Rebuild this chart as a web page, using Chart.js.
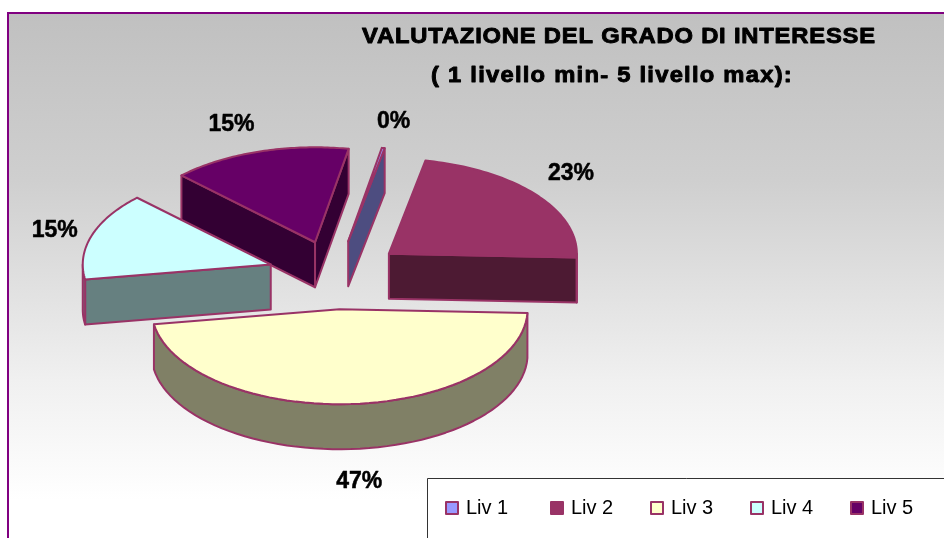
<!DOCTYPE html>
<html>
<head>
<meta charset="utf-8">
<title>Valutazione del grado di interesse</title>
<script src="https://cdn.jsdelivr.net/npm/chart.js@4"></script>
<style>
    html, body { margin: 0; padding: 0; background: #fff; overflow: hidden; }
    #wrap { width: 944px; height: 538px; position: relative; }
</style>
</head>
<body>
<div id="wrap"><canvas id="chart-1"></canvas></div>
<script>
const categories = ['Liv 1', 'Liv 2', 'Liv 3', 'Liv 4', 'Liv 5'];
const values = [0.25, 22.6, 47, 15, 15.5];
const titleLines = ['VALUTAZIONE DEL GRADO DI INTERESSE', '( 1 livello min- 5 livello max):'];

const topColors = ['#9999ff', '#993366', '#ffffcc', '#ccffff', '#660066'];
const wallColors = ['#4d4d80', '#4d1a33', '#808066', '#668080', '#330033'];
const edgeColor = '#993366';

// look of the tilted pie, all in px except tilt
const tilt = 0.505;
const depth = 45;
const burst = 68;
const pieY = 275;
const labelGap = 40;
const labelNudgeX = [3, 3, 6, 1, -15];
const labelNudgeY = [-6, -9, 57, 1, -8];

const total = values.reduce((a, b) => a + b, 0);

// where a point of a slice lands on screen once tilted and pulled out
function project(arc, radius, angle, drop) {
    const mid = (arc.startAngle + arc.endAngle) / 2;
    return {
        x: arc.x + burst * Math.cos(mid) + radius * Math.cos(angle),
        y: pieY + tilt * (burst * Math.sin(mid) + radius * Math.sin(angle)) + drop
    };
}

function traceRim(ctx, arc, from, to, drop) {
    const steps = 60;
    for (let i = 0; i <= steps; i++) {
        const p = project(arc, arc.outerRadius, from + (to - from) * i / steps, drop);
        ctx.lineTo(p.x, p.y);
    }
}

function drawFace(ctx, arc, angle, color) {
    const a = project(arc, 0, angle, 0);
    const b = project(arc, arc.outerRadius, angle, 0);
    ctx.beginPath();
    ctx.moveTo(a.x, a.y);
    ctx.lineTo(b.x, b.y);
    ctx.lineTo(b.x, b.y + depth);
    ctx.lineTo(a.x, a.y + depth);
    ctx.closePath();
    ctx.fillStyle = color;
    ctx.fill();
    ctx.stroke();
}

function drawWalls(ctx, arc, color) {
    ctx.strokeStyle = edgeColor;
    ctx.lineWidth = 2;
    ctx.lineJoin = 'round';
    if (Math.cos(arc.startAngle) < 0) drawFace(ctx, arc, arc.startAngle, color);
    if (Math.cos(arc.endAngle) > 0) drawFace(ctx, arc, arc.endAngle, color);

    // outer rim, only the part turned towards us
    const from = Math.max(arc.startAngle, 0);
    const to = Math.min(arc.endAngle, Math.PI);
    if (to > from) {
        ctx.beginPath();
        traceRim(ctx, arc, from, to, 0);
        const back = project(arc, arc.outerRadius, to, depth);
        ctx.lineTo(back.x, back.y);
        traceRim(ctx, arc, to, from, depth);
        ctx.closePath();
        ctx.fillStyle = color;
        ctx.fill();
        ctx.stroke();
    }
}

function drawTop(ctx, arc) {
    const mid = (arc.startAngle + arc.endAngle) / 2;
    ctx.save();
    ctx.translate(arc.x + burst * Math.cos(mid), pieY + tilt * burst * Math.sin(mid));
    ctx.scale(1, tilt);
    ctx.translate(-arc.x, -arc.y);
    arc.draw(ctx);
    ctx.restore();

    // outline redrawn flat so the tilt does not thin it
    const apex = project(arc, 0, mid, 0);
    ctx.beginPath();
    ctx.moveTo(apex.x, apex.y);
    traceRim(ctx, arc, arc.startAngle, arc.endAngle, 0);
    ctx.closePath();
    ctx.strokeStyle = edgeColor;
    ctx.lineWidth = 2;
    ctx.stroke();
}

// the reference text is heavier than plain bold, so fill and stroke it
function heavyText(ctx, text, x, y) {
    ctx.fillText(text, x, y);
    ctx.strokeText(text, x, y);
}

// title glyphs are also wider than Liberation bold
function titleText(ctx, text, x, y, spacing) {
    ctx.save();
    ctx.translate(x, y);
    ctx.scale(1.08, 1);
    ctx.letterSpacing = spacing + 'px';
    heavyText(ctx, text, 0, 0);
    ctx.restore();
}

const tiltedPie = {
    id: 'tiltedPie',
    beforeDraw(chart) {
        const { ctx, width, height } = chart;
        ctx.save();
        const bg = ctx.createLinearGradient(0, 12, 0, 500);
        bg.addColorStop(0, '#c0c0c0');
        bg.addColorStop(0.344, '#cfcfcf');
        bg.addColorStop(0.754, '#f0f0f0');
        bg.addColorStop(1, '#ffffff');
        ctx.fillStyle = bg;
        ctx.fillRect(8, 13, width, height);
        ctx.strokeStyle = '#800080';
        ctx.lineWidth = 2;
        ctx.strokeRect(8, 13, width + 10, height + 10);
        ctx.restore();
    },
    beforeDatasetDraw(chart) {
        const { ctx } = chart;
        const arcs = chart.getDatasetMeta(0).data;
        [4, 3, 0, 1, 2].forEach(i => drawWalls(ctx, arcs[i], wallColors[i]));
        arcs.forEach(arc => drawTop(ctx, arc));
        return false;
    },
    afterDraw(chart) {
        const { ctx } = chart;
        const arcs = chart.getDatasetMeta(0).data;
        ctx.save();
        ctx.fillStyle = '#000';
        ctx.strokeStyle = '#000';
        ctx.textAlign = 'center';
        ctx.textBaseline = 'middle';

        ctx.font = 'bold 22px "Liberation Sans"';
        ctx.lineWidth = 0.9;
        titleText(ctx, titleLines[0], 619, 37, 0.75);
        titleText(ctx, titleLines[1], 612, 76, 1.15);

        ctx.font = 'bold 23px "Liberation Sans"';
        ctx.lineWidth = 0.5;
        arcs.forEach((arc, i) => {
            const mid = (arc.startAngle + arc.endAngle) / 2;
            const p = project(arc, arc.outerRadius + labelGap, mid, 0);
            heavyText(ctx, Math.round(values[i] / total * 100) + '%', p.x + labelNudgeX[i], p.y + labelNudgeY[i]);
        });

        // legend box runs off the page on the right and at the bottom
        ctx.fillStyle = '#fff';
        ctx.strokeStyle = '#333';
        ctx.lineWidth = 1;
        ctx.fillRect(427.5, 478.5, 520, 70);
        ctx.strokeRect(427.5, 478.5, 520, 70);
        ctx.textAlign = 'left';
        ctx.font = '20px "Liberation Sans"';
        categories.forEach((name, i) => {
            const x = i === 0 ? 446 : 451 + i * 100;
            ctx.fillStyle = topColors[i];
            ctx.strokeStyle = edgeColor;
            ctx.lineWidth = 2;
            ctx.fillRect(x, 502, 12, 12);
            ctx.strokeRect(x, 502, 12, 12);
            ctx.fillStyle = '#000';
            ctx.fillText(name, x + 20, 508);
        });
        ctx.restore();
    }
};

new Chart(document.getElementById('chart-1').getContext('2d'), {
    type: 'pie',
    data: {
        labels: categories,
        datasets: [{
            data: values,
            backgroundColor: topColors,
            borderWidth: 0,
            radius: 188
        }]
    },
    options: {
        responsive: true,
        maintainAspectRatio: false,
        animation: false,
        rotation: 10.3,
        layout: { padding: { right: 273 } },
        plugins: {
            legend: { display: false },
            tooltip: { enabled: false }
        }
    },
    plugins: [tiltedPie]
});
</script>
</body>
</html>
